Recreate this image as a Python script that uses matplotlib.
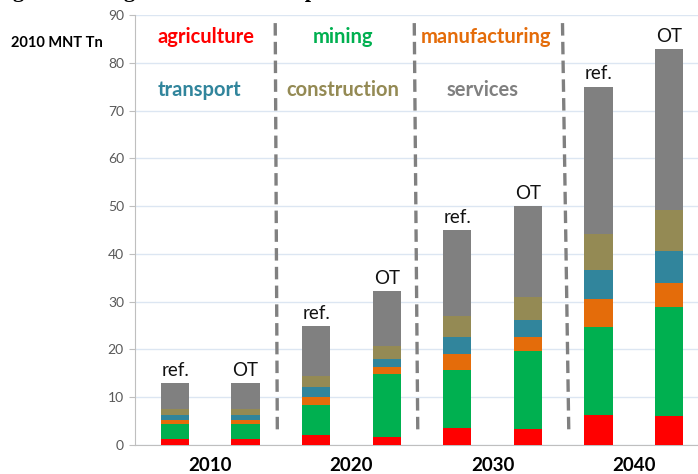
import numpy as np
import matplotlib.pyplot as plt

plt.rcParams['font.family'] = ['Lato', 'DejaVu Sans']
plt.rcParams['lines.scale_dashes'] = False

# ---------- Data (2010 MNT Tn) ----------
years = ["2010", "2020", "2030", "2040"]
scenarios = ["ref.", "OT"]
sectors = ["agriculture", "mining", "manufacturing", "transport", "construction", "services"]
colors = ["#ff0000", "#00b050", "#e46c0a", "#31859c", "#948a54", "#808080"]

# one value per bar: 2010 ref, 2010 OT, 2020 ref, 2020 OT, 2030 ref, 2030 OT, 2040 ref, 2040 OT
agriculture   = [1.2, 1.2, 2.1, 1.7, 3.6, 3.3, 6.3, 6.1]
mining        = [3.2, 3.2, 6.3, 13.2, 12.1, 16.4, 18.3, 22.8]
manufacturing = [0.8, 0.8, 1.6, 1.4, 3.3, 3.0, 5.9, 5.1]
transport     = [1.0, 1.0, 2.1, 1.8, 3.5, 3.5, 6.1, 6.6]
construction  = [1.4, 1.4, 2.4, 2.6, 4.6, 4.8, 7.5, 8.6]
services      = [5.3, 5.3, 10.4, 11.5, 17.8, 19.0, 30.9, 33.7]

series = [agriculture, mining, manufacturing, transport, construction, services]

# ---------- Figure ----------
fig = plt.figure(figsize=(6.98, 4.74), dpi=100)
ax = fig.add_axes([0.1934, 0.0612, 0.8066, 0.9072])

x = np.arange(len(agriculture))
bottom = np.zeros(len(x))
for vals, c in zip(series, colors):
    ax.bar(x, vals, width=0.40, bottom=bottom, color=c, zorder=3)
    bottom += np.array(vals)

# scenario labels above bars
for i, tot in enumerate(bottom):
    ax.annotate(scenarios[i % 2], xy=(i, tot), xytext=(0, 3), textcoords='offset points',
                ha='center', va='bottom', fontsize=13.5, color='#111111')

# dashed separators between decades
for xt, xb in [(1.42, 1.45), (3.39, 3.44), (5.49, 5.58)]:
    ax.plot([xt, xb], [88.3, 2.1], color='#808080', linewidth=2.4,
            dashes=(9, 4.5), zorder=4)

# in-plot sector legend
legend_pos = [(0.44, 85.4), (2.38, 85.4), (4.41, 85.4),
              (0.35, 74.3), (2.38, 74.3), (4.36, 74.3)]
for name, c, (lx, ly) in zip(sectors, colors, legend_pos):
    ax.text(lx, ly, name, color=c, fontsize=14.5, fontweight='bold',
            ha='center', va='center', zorder=5)

# Axis cosmetics
ax.set_xlim(-0.567, 7.41)
ax.set_ylim(0, 90)
ax.set_yticks(np.arange(0, 91, 10))
ax.set_xticks([0.5, 2.5, 4.5, 6.5])
ax.set_xticklabels(years, fontsize=13.5, fontweight='bold')
ax.tick_params(axis='x', length=0, pad=9)
ax.tick_params(axis='y', length=4, color='#bfbfbf', labelcolor='#595959', labelsize=10, pad=4)
ax.grid(axis='y', color='#dce6f2', linewidth=1, zorder=0)
for s in ['top', 'right']:
    ax.spines[s].set_visible(False)
for s in ['left', 'bottom']:
    ax.spines[s].set_color('#bfbfbf')

fig.text(57 / 698, 1 - 43 / 474, "2010 MNT Tn", fontsize=10.5, fontweight='bold',
         ha='center', va='center')

# cropped caption at the very top
fig.text(-0.01, 1.0 + 3 / 474, "Figure 4: Long-term sectoral output in the reference and OT scenarios",
         fontsize=16, fontweight='bold', family='Liberation Serif', ha='left', va='baseline')

fig.savefig("out.png", dpi=100)
